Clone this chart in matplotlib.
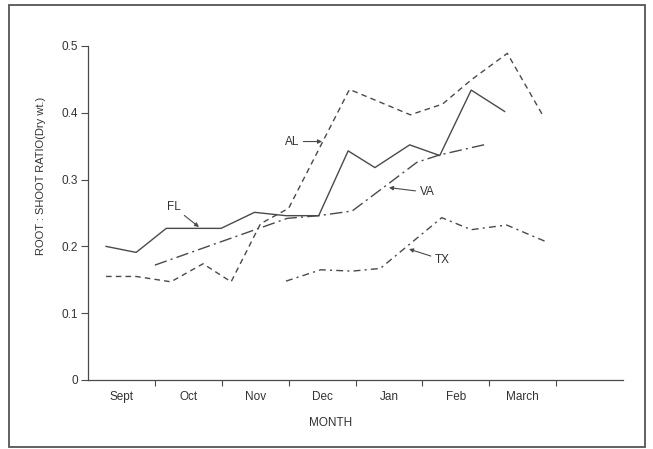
import numpy as np
import matplotlib
matplotlib.use("Agg")
import matplotlib.pyplot as plt
from matplotlib.patches import Rectangle

plt.rcParams['font.family'] = ['Liberation Sans', 'DejaVu Sans']

# month axis: 0 = start of Sept, 1 month per unit
MONTHS = ["Sept", "Oct", "Nov", "Dec", "Jan", "Feb", "March"]

FL_X = [0.27, 0.72, 1.17, 1.99, 2.49, 2.96, 3.45, 3.89, 4.29, 4.81, 5.26, 5.73, 6.23]
FL_Y = [0.200, 0.191, 0.227, 0.227, 0.251, 0.246, 0.246, 0.343, 0.318, 0.352, 0.336, 0.434, 0.402]

AL_X = [0.27, 0.72, 1.24, 1.72, 2.14, 2.58, 3.00, 3.91, 4.82, 5.30, 5.74, 6.27, 6.79]
AL_Y = [0.155, 0.155, 0.147, 0.174, 0.147, 0.234, 0.257, 0.435, 0.397, 0.413, 0.450, 0.489, 0.398]

VA_X = [1.00, 2.98, 3.45, 3.95, 4.92, 5.26, 5.96]
VA_Y = [0.172, 0.242, 0.246, 0.253, 0.326, 0.337, 0.353]

TX_X = [2.96, 3.48, 3.95, 4.37, 5.29, 5.73, 6.26, 6.85]
TX_Y = [0.148, 0.165, 0.163, 0.167, 0.243, 0.225, 0.232, 0.207]

LINE = "#4a4a4a"
TXT = "#333333"
FS = 8.5

fig = plt.figure(figsize=(6.53, 4.49), dpi=100)
fig.patch.set_facecolor("white")
ax = fig.add_axes([88 / 653, 69 / 449, 535 / 653, 334 / 449])

ax.plot(FL_X, FL_Y, color=LINE, lw=1.0, linestyle='-')
ax.plot(AL_X, AL_Y, color=LINE, lw=1.0, linestyle=(0, (4, 3)))
ax.plot(VA_X, VA_Y, color=LINE, lw=1.0, linestyle=(0, (9, 3, 1.5, 3)))
ax.plot(TX_X, TX_Y, color=LINE, lw=1.0, linestyle=(0, (5, 3, 1.5, 3)))

# series labels with arrows
arrow = dict(arrowstyle='-|>', color=LINE, lw=0.8, mutation_scale=6, shrinkA=1, shrinkB=0)
ax.annotate("FL", xy=(1.66, 0.229), xytext=(1.28, 0.259), fontsize=FS, color=TXT,
            ha='center', va='center', arrowprops=arrow)
ax.annotate("AL", xy=(3.50, 0.357), xytext=(3.05, 0.357), fontsize=FS, color=TXT,
            ha='center', va='center', arrowprops=arrow)
ax.annotate("VA", xy=(4.50, 0.288), xytext=(5.07, 0.281), fontsize=FS, color=TXT,
            ha='center', va='center', arrowprops=arrow)
ax.annotate("TX", xy=(4.80, 0.196), xytext=(5.30, 0.180), fontsize=FS, color=TXT,
            ha='center', va='center', arrowprops=arrow)

ax.set_xlim(0, 8)
ax.set_ylim(0, 0.5)
ax.set_xticks(range(1, 8))
ax.set_xticklabels([])
ax.set_xticks(np.arange(len(MONTHS)) + 0.5, minor=True)
ax.set_xticklabels(MONTHS, minor=True)
ax.set_yticks([0, 0.1, 0.2, 0.3, 0.4, 0.5])
ax.set_yticklabels(["0", "0.1", "0.2", "0.3", "0.4", "0.5"])

ax.tick_params(axis='x', which='major', direction='out', length=4, width=0.8, color=LINE)
ax.tick_params(axis='x', which='minor', length=0, pad=8, labelsize=FS, labelcolor=TXT)
ax.tick_params(axis='y', direction='out', length=5, width=0.8, color=LINE,
               labelsize=FS, labelcolor=TXT, pad=2)

for side in ['top', 'right']:
    ax.spines[side].set_visible(False)
for side in ['left', 'bottom']:
    ax.spines[side].set_color(LINE)
    ax.spines[side].set_linewidth(0.9)

ax.set_xlabel("MONTH", fontsize=FS, color=TXT, labelpad=12)
ax.xaxis.set_label_coords((331 - 88) / 535, -0.11)
ax.set_ylabel("ROOT : SHOOT RATIO(Dry wt.)", fontsize=8, color=TXT)
ax.yaxis.set_label_coords(-0.078, (380 - 176) / 334)

# outer frame
fig.patches.append(Rectangle((9 / 653, 2 / 449), 636 / 653, 442 / 449, transform=fig.transFigure,
                             fill=False, edgecolor="#555555", lw=1.3))

fig.savefig("out.png", dpi=100, facecolor="white")
